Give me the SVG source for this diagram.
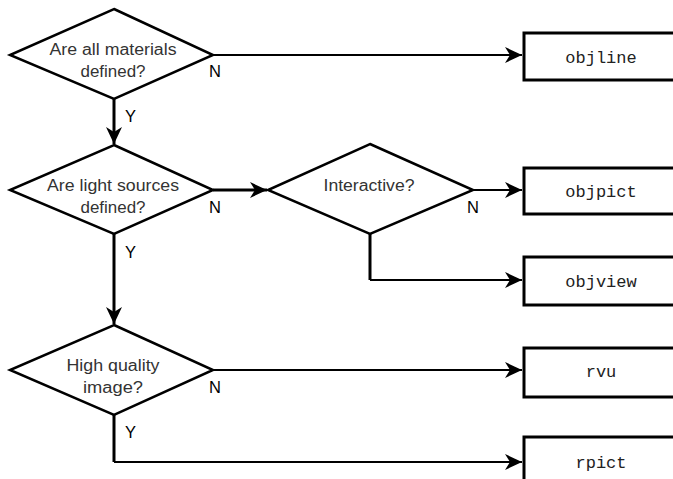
<svg xmlns="http://www.w3.org/2000/svg" width="673" height="479" viewBox="0 0 673 479">
<style>
.dia{fill:#fff;stroke:#000;stroke-width:2.5;stroke-linejoin:miter}
.box{fill:#fff;stroke:#000;stroke-width:3}
.q{font-family:"Liberation Sans",Arial,sans-serif;font-size:16px;fill:#333;text-anchor:middle}
.yn{font-family:"Liberation Sans",Arial,sans-serif;font-size:16.5px;fill:#000}
.cmd{font-family:"Liberation Mono","Courier New",monospace;font-size:17px;fill:#222;text-anchor:middle}
.ln{fill:none;stroke:#000;stroke-width:2.2}
.lnb{fill:none;stroke:#000;stroke-width:3}
</style>
<defs>
<marker id="ah" markerUnits="userSpaceOnUse" viewBox="-18 -9 19 18" refX="0" refY="0" markerWidth="19" markerHeight="18" orient="auto">
<path d="M-17,-8 L0,0 L-17,8 L-12,0 Z" fill="#000"/>
</marker>
</defs>
<rect width="673" height="479" fill="#fff"/>
<g id="connectors">
<path class="ln" d="M213,55 H522" marker-end="url(#ah)"/>
<path class="lnb" d="M114,99 V144" marker-end="url(#ah)"/>
<path class="lnb" d="M213,190 H267" marker-end="url(#ah)"/>
<path class="ln" d="M473,190 H522" marker-end="url(#ah)"/>
<path class="lnb" d="M370,234 V280"/>
<path class="ln" d="M370,280 H522" marker-end="url(#ah)"/>
<path class="lnb" d="M114,234 V324" marker-end="url(#ah)"/>
<path class="ln" d="M213,370 H522" marker-end="url(#ah)"/>
<path class="lnb" d="M114,415 V462"/>
<path class="ln" d="M114,462 H522" marker-end="url(#ah)"/>
</g>
<g id="q1">
<polygon class="dia" points="114,9 213,55 114,99 10,55"/>
<text class="q" x="113" y="55" textLength="127" lengthAdjust="spacingAndGlyphs">Are all materials</text>
<text class="q" x="113" y="77" textLength="65" lengthAdjust="spacingAndGlyphs">defined?</text>
</g>
<g id="q2">
<polygon class="dia" points="114,145 213,190 114,234 10,190"/>
<text class="q" x="113" y="191" textLength="132" lengthAdjust="spacingAndGlyphs">Are light sources</text>
<text class="q" x="113" y="213" textLength="65" lengthAdjust="spacingAndGlyphs">defined?</text>
</g>
<g id="q3">
<polygon class="dia" points="370,144 473,190 370,234 268,190"/>
<text class="q" x="369" y="191" textLength="91" lengthAdjust="spacingAndGlyphs">Interactive?</text>
</g>
<g id="q4">
<polygon class="dia" points="114,325 213,370 114,415 10,370"/>
<text class="q" x="113" y="371" textLength="93" lengthAdjust="spacingAndGlyphs">High quality</text>
<text class="q" x="113" y="393" textLength="60" lengthAdjust="spacingAndGlyphs">image?</text>
</g>
<g id="labels">
<text class="yn" x="209" y="77">N</text>
<text class="yn" x="125" y="122">Y</text>
<text class="yn" x="209" y="213">N</text>
<text class="yn" x="125" y="258">Y</text>
<text class="yn" x="467" y="213">N</text>
<text class="yn" x="209" y="393">N</text>
<text class="yn" x="125" y="438">Y</text>
</g>
<g id="objline"><rect class="box" x="524" y="33" width="152" height="47"/><text class="cmd" x="601" y="63">objline</text></g>
<g id="objpict"><rect class="box" x="524" y="168" width="152" height="46"/><text class="cmd" x="601" y="197">objpict</text></g>
<g id="objview"><rect class="box" x="524" y="257" width="152" height="48"/><text class="cmd" x="601" y="287">objview</text></g>
<g id="rvu"><rect class="box" x="524" y="348" width="152" height="49"/><text class="cmd" x="601" y="377">rvu</text></g>
<g id="rpict"><rect class="box" x="524" y="437" width="152" height="48"/><text class="cmd" x="601" y="468">rpict</text></g>
</svg>
